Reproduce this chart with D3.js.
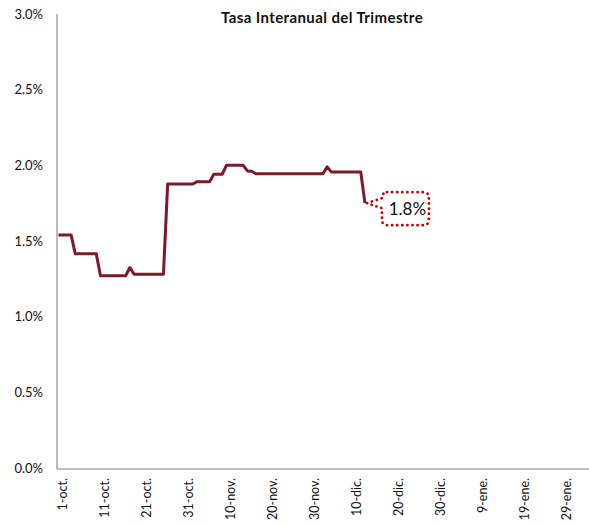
<!DOCTYPE html>
<html>
<head>
<meta charset="utf-8">
<script src="https://cdn.jsdelivr.net/npm/d3@7"></script>
<style>
  body { margin: 0; background: #fff; }
  text { font-family: Lato, "Open Sans", sans-serif; fill: #111; }
</style>
</head>
<body>
<svg id="chart"></svg>
<script>
// daily values of the quarter's y/y rate, starting 1-oct
var startDate = new Date(2014, 9, 1);
var values = [
  1.54, 1.54, 1.54, 1.54,
  1.415, 1.415, 1.415, 1.415, 1.415, 1.415,
  1.27, 1.27, 1.27, 1.27, 1.27, 1.27, 1.27,
  1.325,
  1.28, 1.28, 1.28, 1.28, 1.28, 1.28, 1.28, 1.28,
  1.877, 1.877, 1.877, 1.877, 1.877, 1.877, 1.877,
  1.892, 1.892, 1.892, 1.892,
  1.941, 1.941, 1.941,
  2.0, 2.0, 2.0, 2.0, 2.0,
  1.963, 1.961,
  1.945, 1.945, 1.945, 1.945, 1.945, 1.945, 1.945, 1.945, 1.945,
  1.945, 1.945, 1.945, 1.945, 1.945, 1.945, 1.945, 1.945,
  1.99,
  1.956, 1.956, 1.956, 1.956, 1.956, 1.956, 1.956, 1.956,
  1.75
];
var tickLabels = ["1-oct.", "11-oct.", "21-oct.", "31-oct.", "10-nov.", "20-nov.", "30-nov.",
                  "10-dic.", "20-dic.", "30-dic.", "9-ene.", "19-ene.", "29-ene."];
var yTicks = [0, 0.5, 1, 1.5, 2, 2.5, 3];
var title = "Tasa Interanual del Trimestre";

var width = 589, height = 526;
var data = values.map((v, i) => ({ date: d3.timeDay.offset(startDate, i), value: v }));
var tickDates = tickLabels.map((d, i) => d3.timeDay.offset(startDate, i * 10));

var svg = d3.select("#chart").attr("width", width).attr("height", height);

var x = d3.scaleTime()
  .domain([startDate, d3.timeHour.offset(startDate, 126.4 * 24)])
  .range([58.5, 589]);
var y = d3.scaleLinear().domain([0, 3]).range([468, 14]);

// axes lines (gray)
svg.append("line")
  .attr("x1", 57).attr("x2", 57).attr("y1", 14).attr("y2", 469)
  .attr("stroke", "#a6a6a6").attr("stroke-width", 1.5);
svg.append("line")
  .attr("x1", 57).attr("x2", width).attr("y1", 469).attr("y2", 469)
  .attr("stroke", "#a6a6a6").attr("stroke-width", 1.5);

// y labels
svg.append("g").selectAll("text")
  .data(yTicks)
  .enter().append("text")
    .attr("x", 43)
    .attr("y", d => y(d))
    .attr("dy", "0.35em")
    .attr("text-anchor", "end")
    .style("font-size", "13px")
    .text(d => d.toFixed(1) + "%");

// x labels, rotated
svg.append("g").selectAll("text")
  .data(tickDates)
  .enter().append("text")
    .attr("transform", d => "translate(" + (x(d) + 4.5) + ",478) rotate(-90)")
    .attr("dy", "0.35em")
    .attr("text-anchor", "end")
    .style("font-size", "12.5px")
    .text((d, i) => tickLabels[i]);

// title
svg.append("text")
  .attr("x", 322).attr("y", 23)
  .attr("text-anchor", "middle")
  .style("font-size", "15px")
  .style("letter-spacing", "0.4px")
  .style("font-weight", "bold")
  .text(title);

// series
var line = d3.line().x(d => x(d.date)).y(d => y(d.value));
svg.append("path")
  .datum(data)
  .attr("fill", "none")
  .attr("stroke", "#7b1a29")
  .attr("stroke-width", 3)
  .attr("stroke-linejoin", "round")
  .attr("d", line);

// callout on the last value
var last = data[data.length - 1];
var tx = x(last.date) + 2, ty = y(last.value);
var bx = tx + 15, by = ty - 11, bw = 47, bh = 33, r = 5;
var callout = d3.path();
callout.moveTo(bx + r, by);
callout.lineTo(bx + bw - r, by);
callout.arcTo(bx + bw, by, bx + bw, by + r, r);
callout.lineTo(bx + bw, by + bh - r);
callout.arcTo(bx + bw, by + bh, bx + bw - r, by + bh, r);
callout.lineTo(bx + r, by + bh);
callout.arcTo(bx, by + bh, bx, by + bh - r, r);
callout.lineTo(bx, by + 16);
callout.lineTo(tx, ty);
callout.lineTo(bx, by + 6);
callout.lineTo(bx, by + r);
callout.arcTo(bx, by, bx + r, by, r);
callout.closePath();

svg.append("path")
  .attr("d", callout.toString())
  .attr("fill", "#fff")
  .attr("stroke", "#c00000")
  .attr("stroke-width", 2.8)
  .attr("stroke-dasharray", "0.1 5")
  .attr("stroke-linecap", "round");

svg.append("text")
  .attr("x", bx + bw / 2 + 2)
  .attr("y", by + bh / 2)
  .attr("dy", "0.36em")
  .attr("text-anchor", "middle")
  .style("font-size", "17px")
  .text(last.value.toFixed(1) + "%");
</script>
</body>
</html>
